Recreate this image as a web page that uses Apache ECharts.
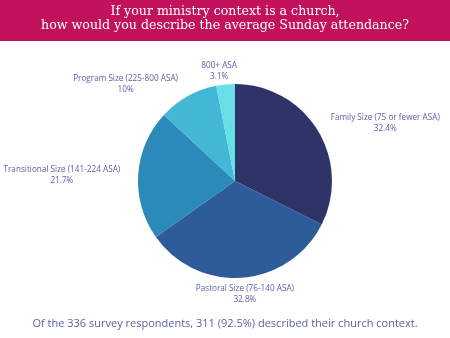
<!DOCTYPE html>
<html><head><meta charset="utf-8">
<script src="https://cdn.jsdelivr.net/npm/echarts@6/dist/echarts.min.js"></script>
<style>html,body{margin:0;padding:0;background:#fff}#c{width:450px;height:338px}</style>
</head><body><div id="c"></div>
<script>
const categories = ["Family Size (75 or fewer ASA)", "Pastoral Size (76-140 ASA)", "Transitional Size (141-224 ASA)", "Program Size (225-800 ASA)", "800+ ASA"];
const values = [32.4, 32.8, 21.7, 10, 3.1];
const colors = ["#2E3468", "#2E5C99", "#2C8ABA", "#43B8D6", "#66E0E6"];
const title = "If your ministry context is a church,\nhow would you describe the average Sunday attendance?";
const footer = "Of the 336 survey respondents, 311 (92.5%) described their church context.";

// small label nudges (style only) applied after the library's own label layout
const labelNudge = [[1, -4], [-54, 10], [-8, 1], [14, -18], [19, -7]];

const chart = echarts.init(document.getElementById('c'), null, {renderer: 'canvas'});
chart.setOption({
  animation: false,
  backgroundColor: '#fff',
  graphic: [
    {type: 'rect', left: 0, top: 0, shape: {width: 450, height: 41}, style: {fill: '#C2125C'}},
    {type: 'text', left: 'center', top: 5, style: {text: title, fill: '#fff', font: '12.6px "DejaVu Serif"', textAlign: 'center', lineHeight: 14}},
    {type: 'text', left: 'center', top: 318, style: {text: footer, fill: '#5A5FA8', font: '11px "Open Sans"', textAlign: 'center'}}
  ],
  series: [{
    type: 'pie',
    center: [235, 181],
    radius: [0, 97],
    startAngle: 90,
    clockwise: true,
    data: categories.map((n, i) => ({name: n, value: values[i], itemStyle: {color: colors[i]}})),
    label: {
      show: true,
      position: 'outside',
      formatter: p => p.name + '\n' + p.value + '%',
      color: '#5A5FA8',
      fontFamily: 'Open Sans',
      fontSize: 8.2,
      lineHeight: 11,
      overflow: 'none',
      distanceToLabelLine: 3
    },
    labelLine: {show: false, length: 6, length2: 4},
    labelLayout: function (p) {
      const r = p.labelRect;
      const n = labelNudge[p.dataIndex] || [0, 0];
      return {x: r.x + r.width / 2 + n[0], y: r.y + r.height / 2 + n[1], align: 'center', verticalAlign: 'middle'};
    },
    emphasis: {disabled: true}
  }]
});
</script></body></html>
